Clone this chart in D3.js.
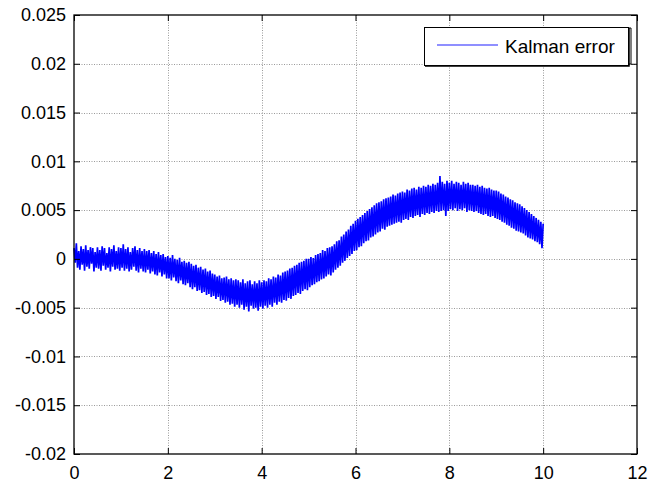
<!DOCTYPE html>
<html>
<head>
<meta charset="utf-8">
<script src="https://cdn.jsdelivr.net/npm/d3@7"></script>
<style>
    body { margin: 0; background: #fff; }
    svg { display: block; font-family: "Liberation Sans", Arial, sans-serif; }
    .grid line { stroke: #9a9a9a; stroke-width: 1; stroke-dasharray: 1,1.5; }
    .axis path { display: none; }
    .axis line { stroke: #000; }
    .axis text { font-size: 18px; fill: #000; }
</style>
</head>
<body>
<div id="chart"></div>
<script>

var xTicks = [0, 2, 4, 6, 8, 10, 12];
var xTickLabels = ['0', '2', '4', '6', '8', '10', '12'];
var yTicks = [-0.02, -0.015, -0.01, -0.005, 0, 0.005, 0.01, 0.015, 0.02, 0.025];
var yTickLabels = ['-0.02', '-0.015', '-0.01', '-0.005', '0', '0.005', '0.01', '0.015', '0.02', '0.025'];
var seriesName = 'Kalman error';

// sample times, every 0.025 s from 0 to 10
var time = d3.range(0, 401).map(function(i) { return i * 0.025; });

// error values (fast ripple riding on a slow drift), one row per 0.5 s
var kalmanError = [
    0.0011, -0.0004, 0.0016, -0.0009, 0.0008, -0.0011, 0.0013, -0.0006, 0.0010, -0.0012, 0.0014, -0.0008, 0.0009, -0.0010, 0.0012, -0.0005, 0.0011, -0.0013, 0.0007, -0.0009,
    0.0012, -0.0010, 0.0009, -0.0012, 0.0013, -0.0007, 0.0011, -0.0011, 0.0006, -0.0009, 0.0012, -0.0013, 0.0010, -0.0008, 0.0014, -0.0011, 0.0008, -0.0010, 0.0012, -0.0012,
    0.0011, -0.0009, 0.0015, -0.0012, 0.0010, -0.0010, 0.0012, -0.0013, 0.0007, -0.0011, 0.0011, -0.0008, 0.0013, -0.0012, 0.0009, -0.0014, 0.0011, -0.0010, 0.0008, -0.0013,
    0.0010, -0.0014, 0.0008, -0.0011, 0.0009, -0.0015, 0.0006, -0.0013, 0.0008, -0.0016, 0.0005, -0.0017, 0.0007, -0.0014, 0.0004, -0.0018, 0.0005, -0.0016, 0.0002, -0.0020,
    0.0003, -0.0020, 0.0001, -0.0022, 0.0004, -0.0019, 0.0000, -0.0023, -0.0001, -0.0025, 0.0001, -0.0022, -0.0003, -0.0026, -0.0002, -0.0027, -0.0004, -0.0025, -0.0003, -0.0029,
    -0.0005, -0.0031, -0.0007, -0.0029, -0.0006, -0.0033, -0.0009, -0.0032, -0.0008, -0.0035, -0.0011, -0.0034, -0.0010, -0.0037, -0.0013, -0.0036, -0.0012, -0.0039, -0.0015, -0.0038,
    -0.0016, -0.0041, -0.0018, -0.0039, -0.0017, -0.0043, -0.0020, -0.0042, -0.0019, -0.0045, -0.0018, -0.0044, -0.0021, -0.0047, -0.0020, -0.0046, -0.0022, -0.0049, -0.0021, -0.0047,
    -0.0022, -0.0050, -0.0024, -0.0047, -0.0021, -0.0052, -0.0025, -0.0049, -0.0023, -0.0054, -0.0022, -0.0048, -0.0026, -0.0051, -0.0023, -0.0050, -0.0025, -0.0053, -0.0022, -0.0049,
    -0.0024, -0.0051, -0.0022, -0.0048, -0.0023, -0.0050, -0.0020, -0.0047, -0.0021, -0.0049, -0.0018, -0.0045, -0.0019, -0.0047, -0.0016, -0.0044, -0.0017, -0.0045, -0.0014, -0.0042,
    -0.0013, -0.0043, -0.0012, -0.0040, -0.0010, -0.0041, -0.0009, -0.0038, -0.0007, -0.0037, -0.0006, -0.0035, -0.0004, -0.0036, -0.0003, -0.0033, -0.0002, -0.0031, 0.0000, -0.0032,
    0.0000, -0.0029, 0.0002, -0.0027, 0.0001, -0.0026, 0.0004, -0.0024, 0.0005, -0.0023, 0.0006, -0.0021, 0.0009, -0.0020, 0.0008, -0.0018, 0.0011, -0.0016, 0.0012, -0.0017,
    0.0013, -0.0014, 0.0015, -0.0011, 0.0018, -0.0009, 0.0019, -0.0007, 0.0023, -0.0004, 0.0025, -0.0002, 0.0028, 0.0001, 0.0030, 0.0003, 0.0034, 0.0005, 0.0036, 0.0008,
    0.0039, 0.0009, 0.0041, 0.0012, 0.0043, 0.0013, 0.0045, 0.0016, 0.0047, 0.0018, 0.0049, 0.0019, 0.0051, 0.0022, 0.0053, 0.0023, 0.0055, 0.0025, 0.0057, 0.0027,
    0.0058, 0.0028, 0.0059, 0.0031, 0.0061, 0.0030, 0.0062, 0.0033, 0.0063, 0.0034, 0.0064, 0.0035, 0.0066, 0.0036, 0.0065, 0.0037, 0.0067, 0.0038, 0.0068, 0.0037,
    0.0069, 0.0040, 0.0068, 0.0041, 0.0071, 0.0040, 0.0070, 0.0043, 0.0072, 0.0042, 0.0073, 0.0044, 0.0071, 0.0045, 0.0074, 0.0043, 0.0073, 0.0046, 0.0075, 0.0045,
    0.0074, 0.0047, 0.0076, 0.0046, 0.0075, 0.0048, 0.0077, 0.0047, 0.0076, 0.0049, 0.0078, 0.0048, 0.0085, 0.0049, 0.0079, 0.0050, 0.0077, 0.0044, 0.0080, 0.0049,
    0.0078, 0.0051, 0.0080, 0.0050, 0.0077, 0.0052, 0.0079, 0.0049, 0.0078, 0.0051, 0.0076, 0.0050, 0.0079, 0.0052, 0.0077, 0.0048, 0.0078, 0.0050, 0.0076, 0.0049,
    0.0076, 0.0048, 0.0075, 0.0049, 0.0076, 0.0047, 0.0074, 0.0046, 0.0075, 0.0045, 0.0073, 0.0046, 0.0072, 0.0044, 0.0073, 0.0043, 0.0071, 0.0044, 0.0070, 0.0042,
    0.0070, 0.0041, 0.0069, 0.0040, 0.0067, 0.0038, 0.0066, 0.0037, 0.0064, 0.0035, 0.0063, 0.0034, 0.0061, 0.0032, 0.0060, 0.0031, 0.0058, 0.0029, 0.0057, 0.0028,
    0.0056, 0.0027, 0.0054, 0.0026, 0.0052, 0.0024, 0.0050, 0.0022, 0.0048, 0.0021, 0.0046, 0.0020, 0.0044, 0.0018, 0.0042, 0.0017, 0.0040, 0.0015, 0.0038, 0.0011,
    0.0036
];

var W = 665, H = 486;
var margin = {top: 15, right: 28, bottom: 32, left: 74};

var svg = d3.select('#chart')
    .append('svg')
    .attr('width', W)
    .attr('height', H);

var x = d3.scaleLinear()
    .domain([0, 12])
    .range([margin.left, W - margin.right]);

var y = d3.scaleLinear()
    .domain([-0.02, 0.025])
    .range([H - margin.bottom, margin.top]);

// dotted grid
var grid = svg.append('g').attr('class', 'grid');

grid.selectAll('.vgrid')
    .data(xTicks.slice(1, -1))
  .enter().append('line')
    .attr('x1', function(d) { return Math.round(x(d)) + 0.5; })
    .attr('x2', function(d) { return Math.round(x(d)) + 0.5; })
    .attr('y1', y(0.025))
    .attr('y2', y(-0.02));

grid.selectAll('.hgrid')
    .data(yTicks.slice(1, -1))
  .enter().append('line')
    .attr('x1', x(0))
    .attr('x2', x(12))
    .attr('y1', function(d) { return Math.round(y(d)) + 0.5; })
    .attr('y2', function(d) { return Math.round(y(d)) + 0.5; });

// the signal
var line = d3.line()
    .x(function(d, i) { return x(time[i]); })
    .y(function(d) { return y(d); });

svg.append('path')
    .datum(kalmanError)
    .attr('d', line)
    .attr('fill', 'none')
    .attr('stroke', '#0000ff')
    .attr('stroke-width', 1.7)
    .attr('stroke-linejoin', 'miter');

// axes, ticks inside like matlab
var fmtX = function(d, i) { return xTickLabels[i]; };
var fmtY = function(d, i) { return yTickLabels[i]; };

svg.append('g')
    .attr('class', 'axis')
    .attr('transform', 'translate(0,' + y(-0.02) + ')')
    .call(d3.axisBottom(x).tickValues(xTicks).tickFormat(fmtX).tickSize(-6).tickPadding(12));

svg.append('g')
    .attr('class', 'axis')
    .attr('transform', 'translate(0,' + y(0.025) + ')')
    .call(d3.axisTop(x).tickValues(xTicks).tickFormat('').tickSize(-6));

svg.append('g')
    .attr('class', 'axis')
    .attr('transform', 'translate(' + x(0) + ',0)')
    .call(d3.axisLeft(y).tickValues(yTicks).tickFormat(fmtY).tickSize(-6).tickPadding(8));

svg.append('g')
    .attr('class', 'axis')
    .attr('transform', 'translate(' + x(12) + ',0)')
    .call(d3.axisRight(y).tickValues(yTicks).tickFormat('').tickSize(-6));

// box
svg.append('rect')
    .attr('x', x(0))
    .attr('y', y(0.025))
    .attr('width', x(12) - x(0))
    .attr('height', y(-0.02) - y(0.025))
    .attr('fill', 'none')
    .attr('stroke', '#000')
    .attr('stroke-width', 1.3);

// legend
var legend = svg.append('g')
    .attr('class', 'legend')
    .attr('transform', 'translate(424,27)');

legend.append('rect')
    .attr('x', 0.5)
    .attr('y', 0.5)
    .attr('width', 204)
    .attr('height', 38)
    .attr('fill', '#fff')
    .attr('stroke', '#000');

legend.append('path')
    .attr('d', 'M1,39 H205 V1')
    .attr('fill', 'none')
    .attr('stroke', '#000')
    .attr('stroke-width', 1.5);

legend.append('path')
    .attr('d', 'M204,1 H207 V37 H204')
    .attr('fill', 'none')
    .attr('stroke', '#000')
    .attr('stroke-width', 1);

legend.append('line')
    .attr('x1', 13)
    .attr('x2', 74)
    .attr('y1', 18)
    .attr('y2', 18)
    .attr('stroke', '#2020ff')
    .attr('stroke-width', 1.2);

legend.append('text')
    .attr('x', 81)
    .attr('y', 26)
    .style('font-size', '19px')
    .text(seriesName);

</script>
</body>
</html>
